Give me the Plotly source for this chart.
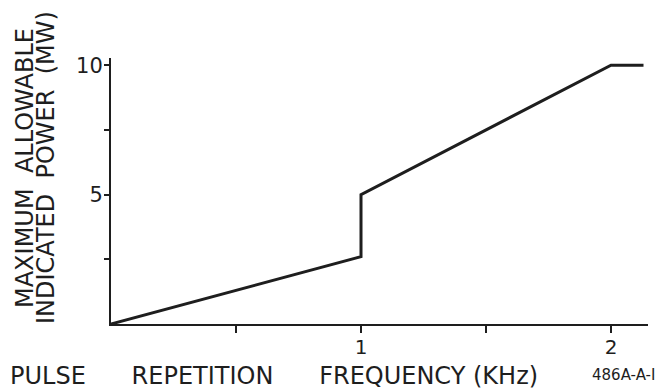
import plotly.graph_objects as go

# Data
freq_khz = [0, 1.0, 1.0, 2.0, 2.13]
power_mw = [0, 2.6, 5.0, 10.0, 10.0]

x_tickvals = [0.5, 1, 1.5, 2]
x_ticktext = ["", "1", "", "2"]
y_tickvals = [2.5, 5, 7.5, 10]
y_ticktext = ["", "5", "", "10"]

FONT = "DejaVu Sans"
INK = "#1e1e1e"
NB = "\u00a0"

fig = go.Figure()
fig.add_trace(go.Scatter(
    x=freq_khz, y=power_mw, mode="lines",
    line=dict(color=INK, width=3),
    hoverinfo="skip", showlegend=False,
))

L, R, T, B = 111, 14, 58, 67
W, H = 662, 391
pw = W - L - R
ph = H - T - B

fig.update_layout(
    width=W, height=H,
    margin=dict(l=L, r=R, t=T, b=B, autoexpand=False),
    paper_bgcolor="white", plot_bgcolor="white",
    font=dict(family=FONT, color=INK),
    xaxis=dict(
        range=[0, 2.148], showgrid=False, zeroline=False,
        showline=True, linecolor=INK, linewidth=2,
        tickmode="array", tickvals=x_tickvals, ticktext=x_ticktext,
        ticks="outside", ticklen=7, tickwidth=1.5, tickcolor=INK,
        tickfont=dict(size=20, family=FONT, color=INK),
        ticklabelstandoff=-3,
    ),
    yaxis=dict(
        range=[0, 10.28], showgrid=False, zeroline=False,
        showline=True, linecolor=INK, linewidth=2,
        tickmode="array", tickvals=y_tickvals, ticktext=y_ticktext,
        ticks="outside", ticklen=5, tickwidth=1.5, tickcolor=INK,
        tickfont=dict(size=21, family=FONT, color=INK),
        ticklabelstandoff=-3,
    ),
)

def px_x(p):
    return (p - L) / pw

def px_y(p):
    return (H - B - p) / ph

fig.add_annotation(
    text="MAXIMUM" + NB * 2 + "ALLOWABLE", xref="paper", yref="paper",
    x=px_x(25), y=px_y(168), textangle=-90, showarrow=False,
    font=dict(size=24, family=FONT, color=INK),
    xanchor="center", yanchor="middle",
)
fig.add_annotation(
    text="INDICATED" + NB * 2 + "POWER" + NB * 2 + "(MW)", xref="paper", yref="paper",
    x=px_x(46), y=px_y(168), textangle=-90, showarrow=False,
    font=dict(size=24, family=FONT, color=INK),
    xanchor="center", yanchor="middle",
)
fig.add_annotation(
    text="PULSE" + NB * 6 + "REPETITION" + NB * 6 + "FREQUENCY" + NB + "(KHz)",
    xref="paper", yref="paper",
    x=px_x(8), y=px_y(376), showarrow=False,
    font=dict(size=24, family=FONT, color=INK),
    xanchor="left", yanchor="middle",
)
fig.add_annotation(
    text="486A-A-I", xref="paper", yref="paper",
    x=px_x(623), y=px_y(375), showarrow=False,
    font=dict(size=15, family=FONT, color=INK),
    xanchor="center", yanchor="middle",
)

fig.write_html(
    "out.html",
    config={"displayModeBar": False},
    post_script="document.body.style.margin='0';document.body.style.padding='0';",
)
